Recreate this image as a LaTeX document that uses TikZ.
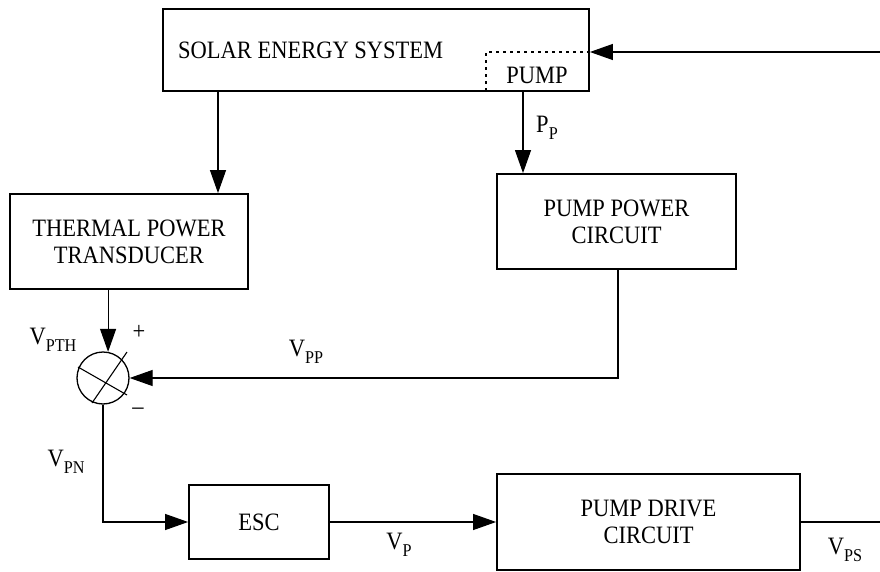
\documentclass[tikz,border=0pt]{standalone}
\usepackage{fontspec}
\setmainfont[FakeStretch=0.9]{Liberation Serif}
\usetikzlibrary{arrows.meta,calc}
\newcommand{\lsub}[1]{\raisebox{-0.3em}{\fontsize{18}{18}\selectfont #1}}
\begin{document}
\begin{tikzpicture}[x=1pt,y=-1pt,
  font=\fontsize{25}{27}\selectfont,
  blk/.style={draw,line width=1.8pt,inner sep=0pt,align=center},
  conn/.style={line width=1.1pt},
  arr/.style={conn,-{Triangle[length=23pt,width=16pt]}},
  dotln/.style={line width=1.1pt,dash pattern=on 3pt off 4pt},
  lbl/.style={inner sep=0pt}]
\useasboundingbox (0,0) rectangle (880,572);
% blocks
\node[blk,minimum width=426pt,minimum height=82pt] (solar) at (376,50) {};
\node[lbl,anchor=west] (soltxt) at (178,50) {SOLAR ENERGY SYSTEM};
\node[lbl] (pumptxt) at (537,75) {PUMP};
\node[blk,minimum width=238pt,minimum height=95pt] (th) at (129,241.5) {THERMAL POWER\\TRANSDUCER};
\node[blk,minimum width=239pt,minimum height=95pt] (pp) at (616.5,221.5) {PUMP POWER\\CIRCUIT};
\node[blk,minimum width=140pt,minimum height=74pt] (esc) at (259,522) {ESC};
\node[blk,minimum width=303pt,minimum height=96pt] (pd) at (648.5,522) {PUMP DRIVE\\CIRCUIT};
% summing junction
\node[draw,circle,line width=1.3pt,minimum size=52pt,inner sep=0pt] (sj) at (103,378) {};
\draw[conn] ($(sj)+(-25,-11)$) -- ($(sj)+(24,17)$);
\draw[conn] ($(sj)+(-11,25)$) -- ($(sj)+(24,-26)$);
% coordinates
\coordinate (rin) at (880,52);
\coordinate (dc) at (486,52);
\coordinate (db) at (486,95);
\coordinate (a1) at (218,0);
\coordinate (a2) at (523,0);
\coordinate (a3) at (618,378);
\coordinate (out) at (880,522);
% dotted pump region
\draw[dotln] (solar.east |- dc) -- (dc) -- (db);
% connectors
\draw[arr] (rin) -- (solar.east |- rin);
\draw[arr] (solar.south -| a1) -- (th.north -| a1);
\draw[arr] (solar.south -| a2) -- (pp.north -| a2);
\draw[arr] (pp.south -| a3) -- (a3) -- (sj.east);
\draw[arr] (th.south -| sj.79) -- (sj.79);
\draw[arr] (sj.south) -- (sj.south |- esc.west) -- (esc.west);
\draw[arr] (esc.east) -- (pd.west);
\draw[conn] (pd.east) -- (out);
% labels
\node[lbl] (lpp) at (547,128) {P\lsub{P}};
\node[lbl] (lpth) at (53,340) {V\lsub{PTH}};
\node[lbl] (lplus) at (139,332) {+};
\node[lbl] (lminus) at (138,411) {--};
\node[lbl] (lvpp) at (306,352) {V\lsub{PP}};
\node[lbl] (lvpn) at (66,462) {V\lsub{PN}};
\node[lbl] (lvp) at (399,545) {V\lsub{P}};
\node[lbl] (lvps) at (845,550) {V\lsub{PS}};
\end{tikzpicture}
\end{document}
